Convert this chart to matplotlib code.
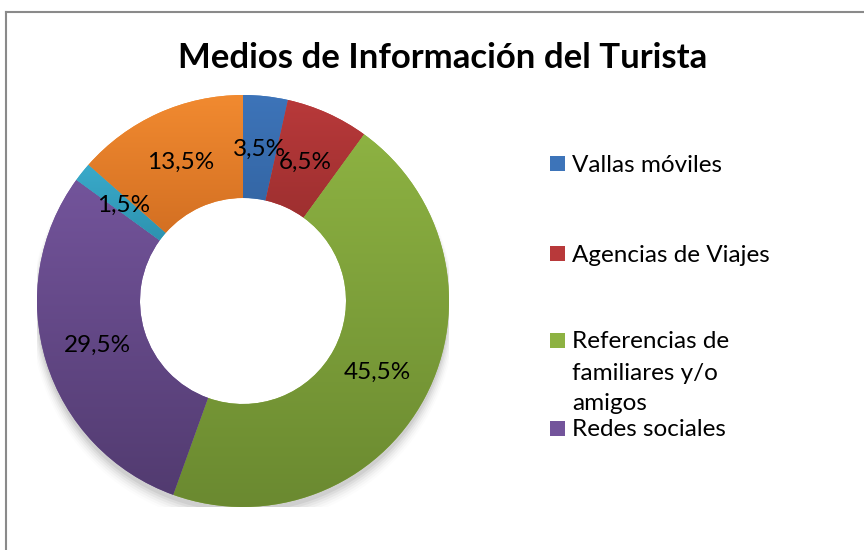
import matplotlib
matplotlib.use("Agg")
import matplotlib.pyplot as plt
import numpy as np
from matplotlib.colors import LinearSegmentedColormap
from matplotlib.patches import Rectangle, Wedge
from matplotlib.lines import Line2D

plt.rcParams['font.family'] = ['Lato', 'DejaVu Sans']

title = "Medios de Información del Turista"
categories = ["Vallas móviles", "Agencias de Viajes",
              "Referencias de\nfamiliares y/o\namigos", "Redes sociales", "", ""]
values = [3.5, 6.5, 45.5, 29.5, 1.5, 13.5]
labels = ["3,5%", "6,5%", "45,5%", "29,5%", "1,5%", "13,5%"]
top_colors = ["#3D74B9", "#B8393A", "#8DB242", "#73549B", "#3AAACA", "#F18A30"]
bottom_colors = ["#2C5A93", "#8C2929", "#6A8930", "#523B70", "#23809B", "#C5631C"]

W, H = 864, 550
fig = plt.figure(figsize=(W / 100, H / 100), dpi=100)

# frame
fig.add_artist(Line2D([6 / W, 6 / W], [0, 1 - 12 / H], transform=fig.transFigure,
                      color="#8a8a8a", lw=1.5))
fig.add_artist(Line2D([6 / W, 1], [1 - 12 / H, 1 - 12 / H], transform=fig.transFigure,
                      color="#8a8a8a", lw=1.5))

fig.text(443 / W, 1 - 58 / H, title, ha="center", va="center",
         fontsize=25, fontweight="bold", color="black")

# donut axes
cx, cy, R = 243, 301, 206
ax = fig.add_axes([(cx - R) / W, 1 - (cy + R) / H, 2 * R / W, 2 * R / H])

# soft shadow (outer only)
for i, a in enumerate(np.linspace(0.05, 0.012, 6)):
    sh = Wedge((0.0, -0.025 - i * 0.006), 1.0 + i * 0.006, 0, 360, width=0.3,
               facecolor="black", edgecolor="none", alpha=a)
    ax.add_patch(sh)

wedges, texts, autotexts = ax.pie(values, startangle=90, counterclock=False,
                                  radius=1.0, wedgeprops=dict(width=0.5, edgecolor="none"),
                                  autopct=lambda p: "", pctdistance=0.74,
                                  colors=top_colors)
ax.set_xlim(-1, 1)
ax.set_ylim(-1, 1)
ax.set_aspect("equal")
ax.axis("off")

grad = np.linspace(0, 1, 256).reshape(-1, 1)
for w, tc, bc in zip(wedges, top_colors, bottom_colors):
    path = w.get_path()
    verts = w.get_transform().transform(path.vertices)
    verts = ax.transData.inverted().transform(verts)
    x0, x1 = verts[:, 0].min(), verts[:, 0].max()
    y0, y1 = verts[:, 1].min(), verts[:, 1].max()
    cmap = LinearSegmentedColormap.from_list("g", [bc, tc])
    im = ax.imshow(grad, cmap=cmap, extent=[x0, x1, y0, y1], origin="lower",
                   aspect="auto", zorder=w.get_zorder() + 0.1, interpolation="bicubic")
    im.set_clip_path(w)
ax.set_xlim(-1, 1)
ax.set_ylim(-1, 1)

for t, lab in zip(autotexts, labels):
    t.set_text(lab)
    t.set_fontsize(17.5)
    t.set_color("black")
    t.set_zorder(10)

# legend (as in reference, only first four entries visible)
legend_rows = [163, 253, 340, 428]
for i, yrow in enumerate(legend_rows):
    fig.add_artist(Rectangle((550 / W, 1 - (yrow + 7.5) / H), 15 / W, 15 / H,
                             transform=fig.transFigure, facecolor=top_colors[i],
                             edgecolor="none"))
    lines = categories[i].split("\n")
    for j, ln in enumerate(lines):
        fig.text(572 / W, 1 - (yrow + j * 31) / H, ln, ha="left", va="center_baseline",
                 fontsize=17.5, color="black")

fig.savefig("out.png", dpi=100)
